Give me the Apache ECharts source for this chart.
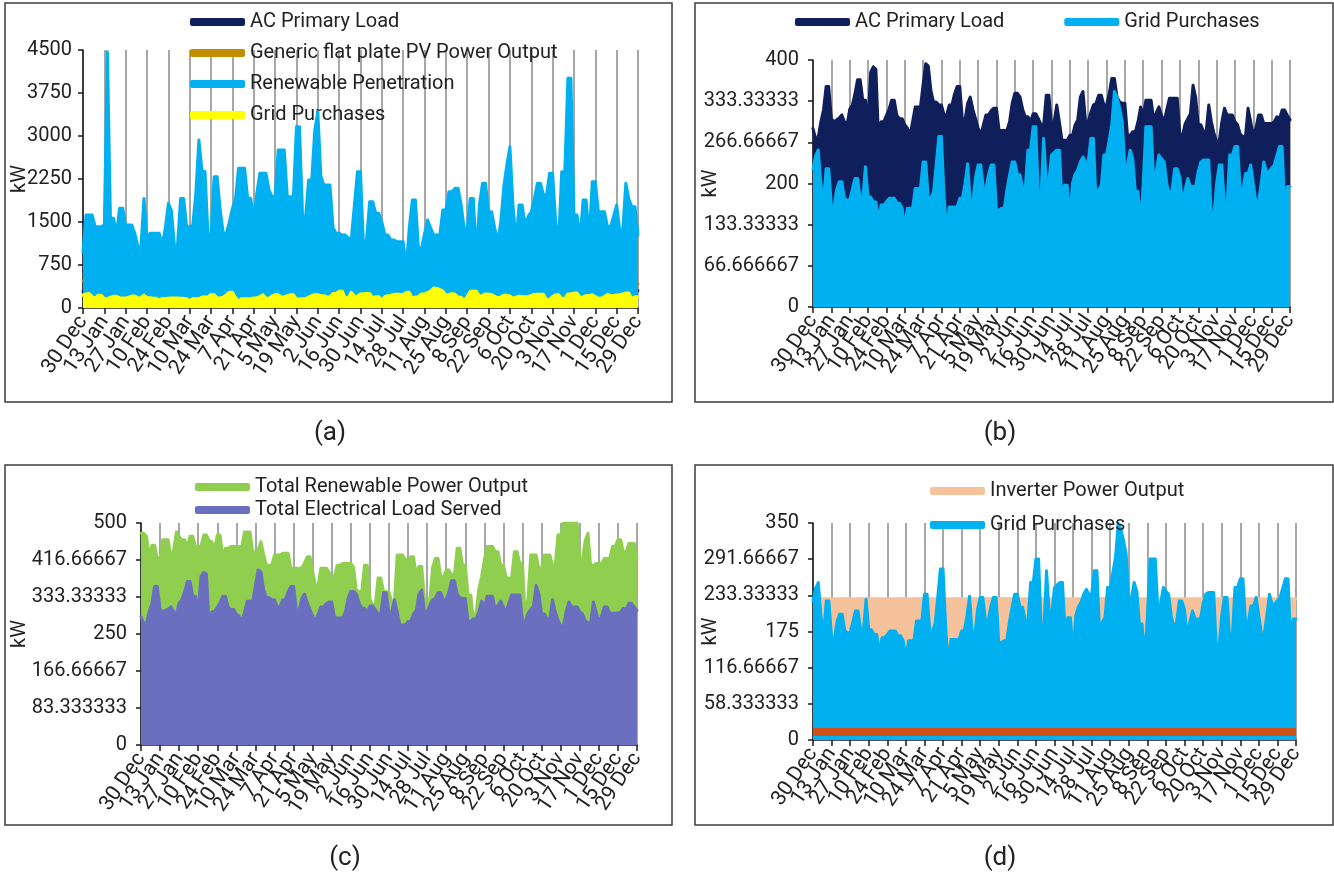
<!DOCTYPE html>
<html>
<head>
<meta charset="utf-8">
<script src="https://cdn.jsdelivr.net/npm/echarts@6/dist/echarts.min.js"></script>
<style>
  html, body { margin: 0; padding: 0; background: #ffffff; }
  #page { position: relative; width: 1334px; height: 881px; overflow: hidden; }
  .panel { position: absolute; }
</style>
</head>
<body>
<div id="page">
  <div id="pa" class="panel" style="left:0;top:0;width:678px;height:460px"></div>
  <div id="pb" class="panel" style="left:684px;top:0;width:650px;height:460px"></div>
  <div id="pc" class="panel" style="left:0;top:460px;width:678px;height:421px"></div>
  <div id="pd" class="panel" style="left:684px;top:460px;width:650px;height:421px"></div>
</div>
<script>
// Date labels shown every 14 days (one sample every 2 days, so every 7th point)
const tickLabels = ['30 Dec', '13 Jan', '27 Jan', '10 Feb', '24 Feb', '10 Mar', '24 Mar', '7 Apr', '21 Apr',
  '5 May', '19 May', '2 Jun', '16 Jun', '30 Jun', '14 Jul', '28 Jul', '11 Aug', '25 Aug', '8 Sep',
  '22 Sep', '6 Oct', '20 Oct', '3 Nov', '17 Nov', '1 Dec', '15 Dec', '29 Dec'];

// AC primary load / total electrical load served (kW)
const load = [
  289, 273, 275, 300, 319, 357, 357, 305, 300, 303,
  306, 311, 300, 295, 320, 327, 345, 368, 368, 335,
  335, 300, 380, 389, 385, 273, 300, 300, 310, 320,
  335, 335, 310, 305, 305, 295, 290, 278, 300, 324,
  324, 324, 360, 394, 390, 350, 332, 332, 327, 327,
  311, 311, 327, 327, 345, 357, 357, 303, 303, 330,
  340, 320, 305, 290, 278, 295, 311, 311, 318, 322,
  322, 286, 286, 286, 286, 300, 330, 346, 346, 340,
  320, 308, 308, 300, 313, 313, 305, 295, 295, 343,
  343, 295, 300, 327, 300, 270, 270, 270, 278, 278,
  295, 303, 340, 349, 300, 300, 315, 327, 330, 343,
  343, 327, 327, 345, 370, 370, 340, 332, 330, 330,
  278, 278, 284, 284, 300, 324, 310, 335, 335, 335,
  303, 315, 324, 310, 300, 320, 338, 338, 338, 338,
  278, 278, 297, 305, 313, 359, 340, 295, 295, 284,
  284, 327, 300, 281, 268, 268, 300, 322, 311, 311,
  311, 300, 295, 280, 276, 276, 322, 300, 278, 290,
  311, 311, 297, 297, 297, 297, 300, 308, 305, 319,
  319, 310, 303];

// Grid purchases (kW)
const gridPurchases = [
  224, 245, 254, 200, 170, 224, 224, 165, 160, 190,
  203, 203, 176, 173, 173, 190, 208, 208, 176, 176,
  227, 178, 178, 170, 170, 140, 165, 165, 170, 176,
  176, 176, 168, 168, 160, 130, 160, 160, 160, 192,
  192, 192, 235, 235, 176, 176, 187, 230, 276, 276,
  181, 122, 162, 162, 162, 162, 176, 176, 200, 232,
  170, 170, 210, 230, 230, 192, 192, 215, 230, 230,
  157, 157, 160, 160, 190, 214, 235, 235, 214, 214,
  192, 192, 254, 254, 292, 292, 178, 178, 273, 205,
  205, 246, 250, 254, 254, 175, 197, 197, 141, 200,
  215, 222, 235, 243, 235, 235, 273, 273, 170, 190,
  197, 246, 246, 270, 295, 349, 340, 322, 300, 224,
  230, 254, 240, 187, 187, 130, 200, 292, 292, 292,
  203, 220, 246, 240, 235, 200, 181, 190, 224, 224,
  210, 168, 190, 208, 195, 195, 195, 220, 235, 238,
  238, 238, 146, 150, 200, 230, 230, 165, 165, 246,
  246, 260, 260, 189, 189, 216, 216, 230, 200, 170,
  170, 200, 235, 219, 219, 225, 230, 245, 260, 260,
  160, 195, 195];

// Total renewable power output (kW)
const renewable = [
  477, 477, 470, 424, 450, 450, 420, 420, 462, 462,
  462, 420, 440, 480, 470, 462, 462, 447, 470, 470,
  447, 447, 447, 473, 473, 460, 458, 440, 473, 473,
  425, 443, 443, 447, 447, 447, 447, 447, 480, 480,
  480, 435, 435, 440, 458, 430, 405, 405, 405, 428,
  428, 428, 432, 432, 432, 398, 398, 398, 398, 398,
  410, 424, 424, 390, 360, 360, 398, 398, 398, 390,
  368, 380, 405, 405, 409, 409, 409, 409, 400, 350,
  345, 345, 405, 405, 330, 315, 318, 376, 376, 345,
  345, 345, 323, 323, 428, 428, 428, 417, 417, 424,
  424, 383, 402, 402, 330, 323, 330, 400, 420, 420,
  379, 379, 394, 394, 383, 383, 443, 443, 405, 405,
  338, 338, 282, 300, 353, 380, 417, 447, 447, 447,
  435, 435, 405, 405, 376, 376, 376, 435, 435, 409,
  409, 286, 330, 428, 428, 428, 398, 398, 428, 428,
  428, 405, 405, 473, 473, 500, 500, 500, 500, 500,
  500, 420, 420, 460, 477, 405, 405, 409, 409, 409,
  420, 420, 420, 447, 447, 462, 462, 435, 435, 454,
  454, 454, 420];

// Renewable penetration
const penetration = [
  982, 1622, 1622, 1622, 1418, 1418, 1418, 1450, 4471, 1564,
  1564, 1300, 1738, 1738, 1447, 1447, 1447, 1300, 1070, 1070,
  1912, 1200, 1302, 1302, 1302, 1302, 1099, 1400, 1825, 1700,
  1070, 1100, 1912, 1912, 1418, 1418, 1447, 2000, 2930, 2400,
  2378, 1273, 1300, 2290, 2290, 1700, 1302, 1302, 1500, 1738,
  1900, 2436, 2436, 2436, 1912, 1912, 1535, 2000, 2349, 2349,
  2349, 2058, 1942, 1942, 2756, 2756, 2756, 1942, 1942, 1942,
  3163, 3163, 1593, 1593, 2232, 2232, 3100, 3424, 2300, 2145,
  2145, 2145, 1400, 1302, 1302, 1273, 1273, 1215, 1215, 1800,
  2378, 2378, 1040, 1200, 1854, 1854, 1651, 1651, 1500, 1273,
  1273, 1186, 1186, 1157, 1157, 1157, 700, 1400, 1883, 1883,
  1040, 1040, 1300, 1535, 1400, 1273, 1273, 1273, 1709, 1709,
  2029, 2029, 2087, 2087, 1800, 1389, 1389, 1912, 1912, 900,
  1800, 2174, 2174, 1680, 1680, 1400, 1157, 1500, 2116, 2500,
  2814, 1800, 1157, 1796, 1796, 1447, 1600, 1680, 1900, 2174,
  2174, 1971, 1971, 2349, 2349, 1500, 1215, 2378, 2378, 4006,
  4006, 1622, 1622, 1215, 1883, 1883, 1215, 2203, 2203, 1680,
  1680, 1680, 1418, 1418, 1600, 1796, 1360, 1360, 2174, 1900,
  1767, 1767, 1273];

// Inverter power output (kW)
const inverter = [
  228, 228, 228, 228, 228, 228, 228, 228, 228, 228,
  228, 228, 228, 228, 228, 228, 228, 228, 228, 228,
  228, 228, 228, 228, 228, 228, 228, 228, 228, 228,
  228, 228, 228, 228, 228, 228, 228, 228, 228, 228,
  228, 228, 228, 228, 228, 228, 228, 228, 228, 228,
  228, 228, 228, 228, 228, 228, 228, 228, 228, 228,
  228, 228, 228, 228, 228, 228, 228, 228, 228, 228,
  228, 228, 228, 228, 228, 228, 228, 228, 228, 228,
  228, 228, 228, 228, 228, 228, 228, 228, 228, 228,
  228, 228, 228, 228, 228, 228, 228, 228, 228, 228,
  228, 228, 228, 228, 228, 228, 228, 228, 228, 228,
  228, 228, 228, 228, 228, 228, 228, 228, 228, 228,
  228, 228, 228, 228, 228, 228, 228, 228, 228, 228,
  228, 228, 228, 228, 228, 228, 228, 228, 228, 228,
  228, 228, 228, 228, 228, 228, 228, 228, 228, 228,
  228, 228, 228, 228, 228, 228, 228, 228, 228, 228,
  228, 228, 228, 228, 228, 228, 228, 228, 228, 228,
  228, 228, 228, 228, 228, 228, 228, 228, 228, 228,
  228, 228, 228];

// Constant level drawn as a thick band in panel (d)
const bandLevel = 14;

// Value-axis tick labels
const ticksA = ['0', '750', '1500', '2250', '3000', '3750', '4500'];
const ticksB = ['0', '66.666667', '133.33333', '200', '266.66667', '333.33333', '400'];
const ticksC = ['0', '83.333333', '166.66667', '250', '333.33333', '416.66667', '500'];
const ticksD = ['0', '58.333333', '116.66667', '175', '233.33333', '291.66667', '350'];

const FONT = 'Roboto';
const INK = '#222222';
const LABEL_EVERY = 7;
const points = load.map((_, i) => i);

const C = {
  navy: '#0f1f5c',
  gold: '#bf8f00',
  sky: '#00b0f0',
  yellow: '#ffff00',
  green: '#8fce4e',
  purple: '#6b6fc0',
  peach: '#f6c29c',
  rust: '#cc5118'
};

// Every category gets a label slot (interval 0) so none of the date labels is dropped;
// only every 7th slot carries text.
function xAxis() {
  return {
    type: 'category', data: points, boundaryGap: false,
    axisLine: { show: true, lineStyle: { color: '#1a1a1a', width: 1.5 } },
    axisTick: { show: true, interval: LABEL_EVERY - 1, length: 6, lineStyle: { color: '#1a1a1a', width: 1.5 } },
    splitLine: { show: true, interval: LABEL_EVERY - 1, lineStyle: { color: '#8a8a8a', width: 1.5 } },
    axisLabel: {
      interval: 0, rotate: 56, margin: 10, hideOverlap: false,
      fontFamily: FONT, fontSize: 21, color: INK,
      formatter: (v, idx) => (idx % LABEL_EVERY === 0 ? tickLabels[idx / LABEL_EVERY] : '')
    }
  };
}

// The "kW" title keeps its fixed gap from the axis line and may sit over the tick labels
function yAxis(labels, nameGap, margin) {
  const max = Number(labels[labels.length - 1]);
  const step = max / (labels.length - 1);
  return {
    type: 'value', min: 0, max: max, interval: step,
    name: 'kW', nameLocation: 'middle', nameGap: nameGap, nameMoveOverlap: false,
    nameTextStyle: { fontFamily: FONT, fontSize: 20, color: INK },
    axisLine: { show: true, lineStyle: { color: '#1a1a1a', width: 1.5 } },
    axisTick: { show: true, length: 5, lineStyle: { color: '#1a1a1a', width: 1.5 } },
    splitLine: { show: false },
    axisLabel: {
      fontFamily: FONT, fontSize: 20, color: INK, margin: margin,
      formatter: v => labels[Math.round(v / step)]
    }
  };
}

// Each area sits in its own z layer so its outline stays under the next series
function area(name, data, color, z) {
  return {
    name: name, type: 'line', data: data, symbol: 'none', animation: false, z: z,
    lineStyle: { color: color, width: 3, join: 'round', cap: 'round' },
    itemStyle: { color: color },
    areaStyle: { color: color, opacity: 1 }
  };
}

function legend(opts, names) {
  return Object.assign({
    icon: 'roundRect', itemWidth: 55, itemHeight: 8,
    textStyle: { fontFamily: FONT, fontSize: 20, color: INK },
    data: names, selectedMode: false
  }, opts);
}

function frame(x0, y0, x1, y1, caption, cx, cy) {
  return [
    { type: 'rect', silent: true, z: 100,
      shape: { x: x0, y: y0, width: x1 - x0, height: y1 - y0 },
      style: { fill: 'none', stroke: '#3c3c3c', lineWidth: 1.5 } },
    { type: 'text', silent: true, x: cx, y: cy,
      style: { text: caption, fontFamily: FONT, fontSize: 26, fill: INK, align: 'center', verticalAlign: 'middle' } }
  ];
}

function plotArea(left, right, top, bottom) {
  return { left: left, right: right, top: top, bottom: bottom, containLabel: false, outerBoundsMode: 'none' };
}

function render(id, option) {
  const chart = echarts.init(document.getElementById(id), null, { renderer: 'canvas' });
  chart.setOption(Object.assign({ animation: false, backgroundColor: 'transparent' }, option));
}

// (a)
render('pa', {
  grid: plotArea(83, 40, 50, 152),
  legend: legend({ orient: 'vertical', left: 185, top: 7, itemGap: 11 },
    ['AC Primary Load', 'Generic flat plate PV Power Output', 'Renewable Penetration', 'Grid Purchases']),
  xAxis: xAxis(),
  yAxis: yAxis(ticksA, 53, 11),
  series: [
    area('AC Primary Load', load, C.navy, 2),
    area('Generic flat plate PV Power Output', renewable, C.gold, 3),
    area('Renewable Penetration', penetration, C.sky, 4),
    area('Grid Purchases', gridPurchases, C.yellow, 5)
  ],
  graphic: frame(5, 3, 672, 402, '(a)', 330, 433)
});

// (b)
render('pb', {
  grid: plotArea(129, 44, 60, 153),
  legend: legend({ orient: 'horizontal', left: 106, top: 7, itemGap: 60 },
    ['AC Primary Load', 'Grid Purchases']),
  xAxis: xAxis(),
  yAxis: yAxis(ticksB, 92, 14),
  series: [
    area('AC Primary Load', load, C.navy, 2),
    area('Grid Purchases', gridPurchases, C.sky, 3)
  ],
  graphic: frame(11, 3, 649, 402, '(b)', 316, 433)
});

// (c)
render('pc', {
  grid: plotArea(141, 41, 63, 136),
  legend: legend({ orient: 'vertical', left: 190, top: 12, itemGap: 3 },
    ['Total Renewable Power Output', 'Total Electrical Load Served']),
  xAxis: xAxis(),
  yAxis: yAxis(ticksC, 111, 14),
  series: [
    area('Total Renewable Power Output', renewable, C.green, 2),
    area('Total Electrical Load Served', load, C.purple, 3)
  ],
  graphic: frame(5, 5, 672, 365, '(c)', 345, 398)
});

// (d)
render('pd', {
  grid: plotArea(129, 38, 63, 141),
  legend: legend({ orient: 'vertical', left: 241, top: 16, itemGap: 14 },
    ['Inverter Power Output', 'Grid Purchases']),
  xAxis: xAxis(),
  yAxis: yAxis(ticksD, 92, 14),
  series: [
    area('Inverter Power Output', inverter, C.peach, 2),
    area('Grid Purchases', gridPurchases, C.sky, 3),
    {
      name: 'band', type: 'line', data: [], animation: false, z: 6,
      markLine: {
        silent: true, symbol: ['none', 'none'], label: { show: false },
        lineStyle: { color: C.rust, width: 8, type: 'solid' },
        data: [{ yAxis: bandLevel }]
      }
    }
  ],
  graphic: frame(11, 5, 649, 365, '(d)', 316, 398)
});
</script>
</body>
</html>
